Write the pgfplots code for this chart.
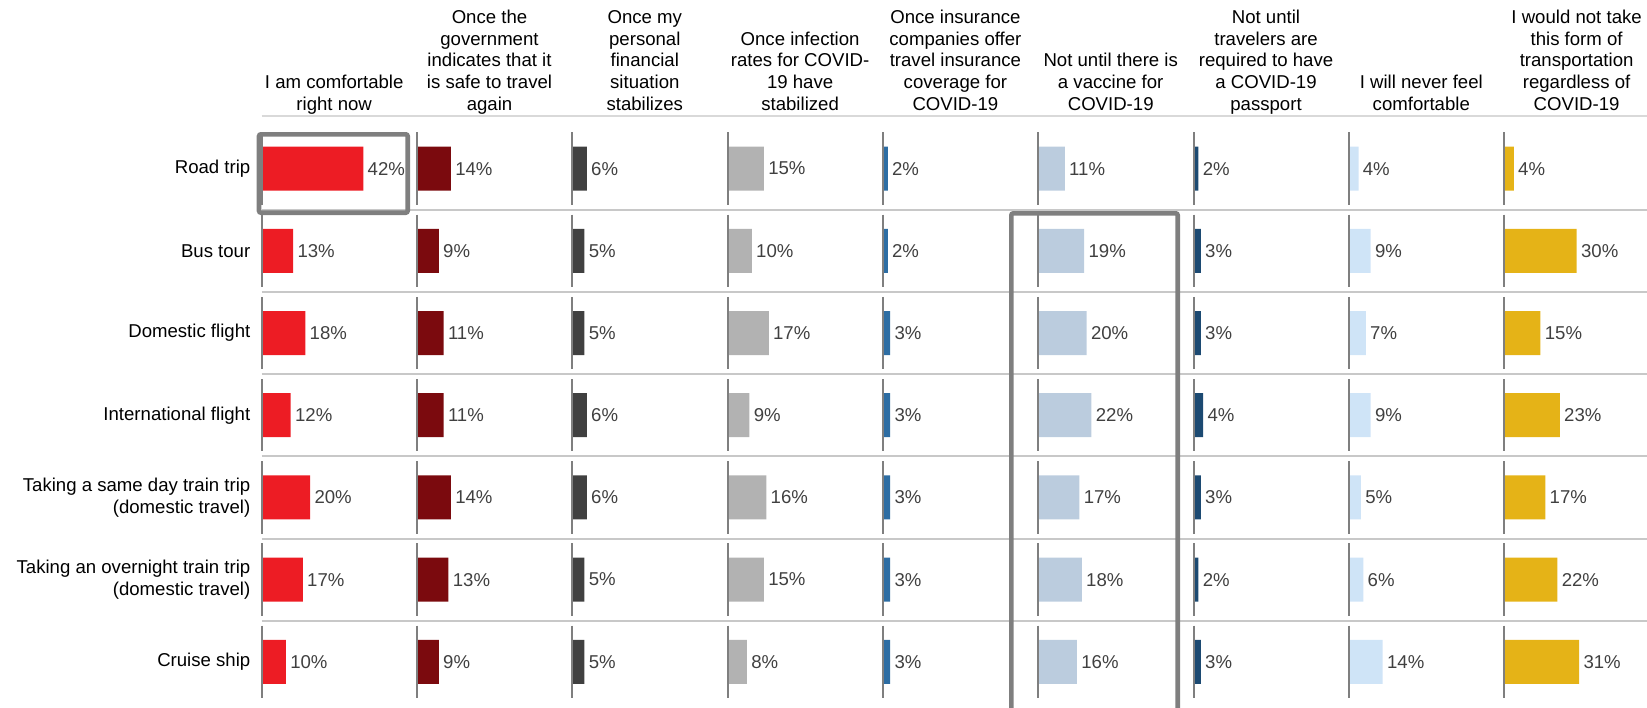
\documentclass[border=0pt]{standalone}
\usepackage{fontspec}
\setmainfont{Liberation Sans}
\usepackage{pgfplots}
\usepackage{pgfplotstable}
\pgfplotsset{compat=1.18}

\definecolor{c1}{HTML}{ED1C24}
\definecolor{c2}{HTML}{7B0A0E}
\definecolor{c3}{HTML}{404040}
\definecolor{c4}{HTML}{B2B2B2}
\definecolor{c5}{HTML}{2D6DA3}
\definecolor{c6}{HTML}{BBCCDE}
\definecolor{c7}{HTML}{1C4A72}
\definecolor{c8}{HTML}{CFE4F7}
\definecolor{c9}{HTML}{E5B317}
\definecolor{pct}{HTML}{404040}
\definecolor{vline}{HTML}{7F7F7F}
\definecolor{sepgray}{HTML}{C8C8C8}
\definecolor{boxgray}{HTML}{7F7F7F}

\newcommand{\fs}{\fontsize{9.3}{10.8}\selectfont}

% rows: 0 Road trip ... 6 Cruise ship; columns a..i = the nine answers
\pgfplotstableread{
row  a  b  c  d  e  f  g  h  i
0   42 14  6 15  2 11  2  4  4
1   13  9  5 10  2 19  3  9 30
2   18 11  5 17  3 20  3  7 15
3   12 11  6  9  3 22  4  9 23
4   20 14  6 16  3 17  3  5 17
5   17 13  5 15  3 18  2  6 22
6   10  9  5  8  3 16  3 14 31
}\data

\pgfplotsset{
  col/.style={
    anchor=north west, x=1.21pt, y=41.1pt, y dir=reverse,
    xmin=0, xmax=64, ymin=-0.5, ymax=6.5,
    hide x axis, axis y line=left, y axis line style={draw=none},
    ytick={0,...,6}, yticklabels={}, major tick length=0pt,
    xbar, bar width=22pt, clip=false,
    point meta=x,
    nodes near coords={\pgfmathprintnumber{\pgfplotspointmeta}\%},
    nodes near coords align=horizontal,
    every node near coord/.append style={font=\fs, text=pct, inner xsep=2pt, anchor=west},
    /pgf/number format/assume math mode=true,
  },
}

\newcommand{\column}[4]{%
  \begin{axis}[col, at={(#1pt,-63.75pt)}, #4]
    \addplot[fill=#3, draw=none] table[x=#2, y=row] {\data};
    \pgfplotsinvokeforeach{0,...,6}{\draw[vline, line width=1pt] (axis cs:0,##1-0.44) -- (axis cs:0,##1+0.44);}
  \end{axis}}

\begin{document}
\begin{tikzpicture}
\useasboundingbox (0,0) rectangle (823.5pt,-353.5pt);

% header rule and row separators
\draw[color=sepgray!70, line width=0.75pt] (130.85pt,-58pt) -- (823.5pt,-58pt);
\foreach \k in {0,...,5}
  \draw[sepgray, line width=1pt] (130.85pt,{-104.9pt-41.1pt*\k}) -- (823.5pt,{-104.9pt-41.1pt*\k});

\column{130.85}{a}{c1}{yticklabels={Road trip, Bus tour, Domestic flight, International flight,
  {Taking a same day train trip\\(domestic travel)}, {Taking an overnight train trip\\(domestic travel)}, Cruise ship},
  yticklabel style={align=right, font=\fs, text=black, inner xsep=5.5pt, inner ysep=0pt}}
\column{208.5}{b}{c2}{}
\column{286.15}{c}{c3}{}
\column{363.8}{d}{c4}{}
\column{441.45}{e}{c5}{}
\column{519.1}{f}{c6}{}
\column{596.75}{g}{c7}{}
\column{674.4}{h}{c8}{}
\column{752.05}{i}{c9}{}

% column headers
\begin{scope}[every node/.style={anchor=south, align=center, inner sep=0pt, font=\fs, text=black}]
\node at (167.1pt,-58.5pt) {I am comfortable\\right now\strut};
\node at (244.75pt,-58.5pt) {Once the\\government\\indicates that it\\is safe to travel\\again\strut};
\node at (322.4pt,-58.5pt) {Once my\\personal\\financial\\situation\\stabilizes\strut};
\node at (400.05pt,-58.5pt) {Once infection\\rates for COVID-\\19 have\\stabilized\strut};
\node at (477.7pt,-58.5pt) {Once insurance\\companies offer\\travel insurance\\coverage for\\COVID-19\strut};
\node at (555.35pt,-58.5pt) {Not until there is\\a vaccine for\\COVID-19\strut};
\node at (633pt,-58.5pt) {Not until\\travelers are\\required to have\\a COVID-19\\passport\strut};
\node at (710.65pt,-58.5pt) {I will never feel\\comfortable\strut};
\node at (788.3pt,-58.5pt) {I would not take\\this form of\\transportation\\regardless of\\COVID-19\strut};
\end{scope}

% highlight boxes
\draw[boxgray, line width=2.3pt, rounded corners=1pt] (129.5pt,-67.15pt) rectangle (203.85pt,-106.35pt);
\draw[boxgray, line width=2.3pt, rounded corners=1pt] (505.65pt,-106.65pt) rectangle (588.85pt,-370pt);
\end{tikzpicture}
\end{document}
